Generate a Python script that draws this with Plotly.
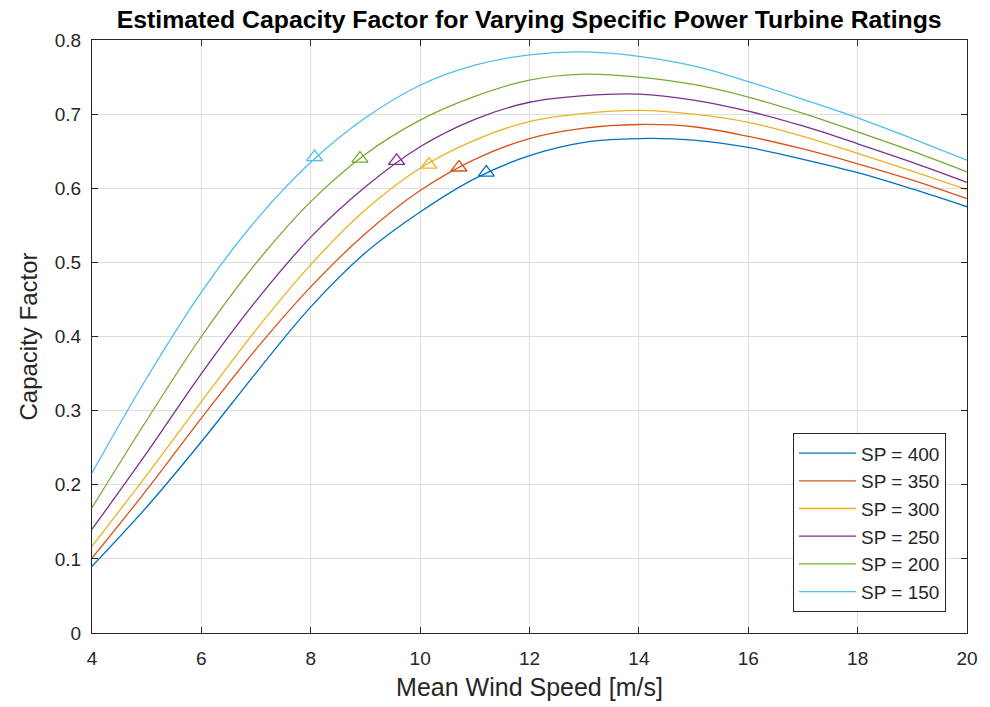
import plotly.graph_objects as go

# Mean wind speed [m/s]
wind_speed = [4, 5, 6, 7, 8, 9, 10, 11, 12, 13, 14, 15, 16, 17, 18, 19, 20]

# Capacity factor per specific power rating [W/m^2]
cf_sp400 = [0.090, 0.170, 0.258, 0.351, 0.440, 0.513, 0.568, 0.613, 0.644, 0.662, 0.667, 0.665, 0.655, 0.639, 0.621, 0.599, 0.575]
cf_sp350 = [0.101, 0.193, 0.290, 0.383, 0.467, 0.539, 0.597, 0.639, 0.667, 0.681, 0.686, 0.683, 0.670, 0.653, 0.633, 0.611, 0.586]
cf_sp300 = [0.117, 0.213, 0.312, 0.409, 0.497, 0.571, 0.627, 0.665, 0.690, 0.701, 0.705, 0.700, 0.689, 0.670, 0.647, 0.623, 0.598]
cf_sp250 = [0.140, 0.243, 0.350, 0.448, 0.534, 0.602, 0.656, 0.693, 0.716, 0.725, 0.727, 0.719, 0.704, 0.684, 0.660, 0.635, 0.608]
cf_sp200 = [0.169, 0.287, 0.400, 0.499, 0.582, 0.646, 0.692, 0.724, 0.746, 0.754, 0.750, 0.740, 0.723, 0.701, 0.676, 0.650, 0.622]
cf_sp150 = [0.216, 0.344, 0.460, 0.557, 0.635, 0.695, 0.739, 0.766, 0.780, 0.784, 0.778, 0.765, 0.744, 0.720, 0.695, 0.667, 0.638]

series_labels = ["SP = 400", "SP = 350", "SP = 300", "SP = 250", "SP = 200", "SP = 150"]
series_values = [cf_sp400, cf_sp350, cf_sp300, cf_sp250, cf_sp200, cf_sp150]
series_colors = ["#0072BD", "#D95319", "#EDB120", "#7E2F8E", "#77AC30", "#4DBEEE"]

# Highlighted operating point on each curve
marker_speed = [11.21, 10.71, 10.16, 9.57, 8.90, 8.07]
marker_cf = [0.621, 0.628, 0.632, 0.637, 0.640, 0.642]

FONT = "Liberation Sans, Arial, Helvetica, sans-serif"
INK = "#262626"

fig = go.Figure()

for label, vals, col in zip(series_labels, series_values, series_colors):
    fig.add_trace(go.Scatter(
        x=wind_speed, y=vals, mode="lines", name=label,
        line=dict(color=col, width=1.3, shape="spline", smoothing=1.0),
    ))

for i, col in enumerate(series_colors):
    fig.add_trace(go.Scatter(
        x=[marker_speed[i]], y=[marker_cf[i]], mode="markers",
        marker=dict(symbol="triangle-up-open", size=14, color=col,
                    line=dict(color=col, width=1.3)),
        showlegend=False, hoverinfo="skip",
    ))

axis_common = dict(
    showline=True, linecolor=INK, linewidth=1, mirror="ticks",
    ticks="inside", ticklen=6, tickcolor=INK, tickwidth=1,
    showgrid=True, gridcolor="#dedede", gridwidth=1,
    zeroline=False,
    tickfont=dict(family=FONT, size=19, color=INK),
)

fig.update_xaxes(
    range=[4, 20], dtick=2, tick0=4, ticklabelstandoff=8,
    title=dict(text="Mean Wind Speed [m/s]", font=dict(family=FONT, size=25, color=INK), standoff=10),
    **axis_common,
)
fig.update_yaxes(
    range=[0, 0.8], dtick=0.1, tick0=0, ticklabelstandoff=6,
    title=dict(text="Capacity Factor", font=dict(family=FONT, size=24, color=INK), standoff=10),
    **axis_common,
)

fig.update_layout(
    width=990, height=707,
    margin=dict(l=92, r=23, t=40, b=74),
    paper_bgcolor="white", plot_bgcolor="white",
    title=dict(
        text="<b>Estimated Capacity Factor for Varying Specific Power Turbine Ratings</b>",
        font=dict(family=FONT, size=24.8, color="#000000"),
        x=0.5345, xanchor="center", y=0.972, yanchor="middle",
    ),
    legend=dict(
        x=0.976, y=0.035, xanchor="right", yanchor="bottom",
        bgcolor="white", bordercolor=INK, borderwidth=1,
        font=dict(family=FONT, size=19, color=INK),
        itemwidth=57,
    ),
    showlegend=True,
)

fig.write_html("out.html")
